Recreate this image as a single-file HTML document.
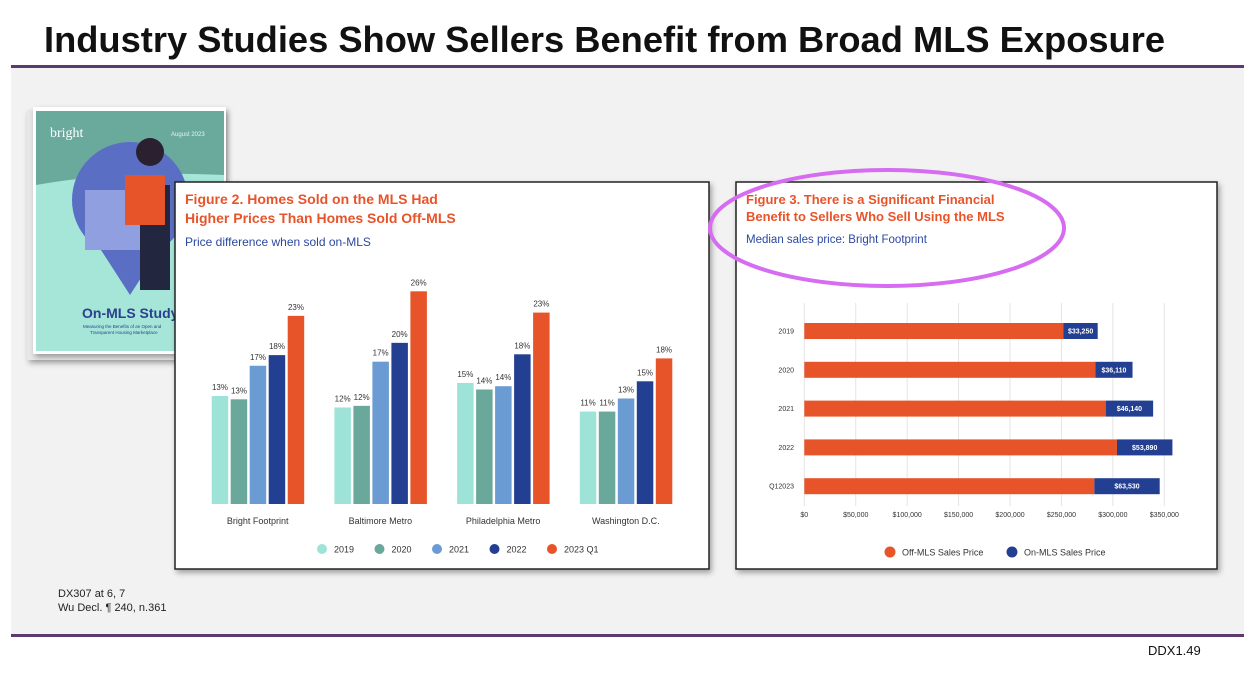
<!DOCTYPE html>
<html><head><meta charset="utf-8"><style>
html,body{margin:0;padding:0;background:#fff;}
svg{display:block;font-family:"Liberation Sans",sans-serif;}
</style></head><body>
<svg id="s" width="1244" height="674" viewBox="0 0 1244 674">
<defs><filter id="sh" x="-5%" y="-5%" width="115%" height="115%"><feDropShadow dx="2" dy="3" stdDeviation="3" flood-opacity="0.35"/></filter></defs>
<rect x="11" y="68" width="1233" height="566" fill="#f2f2f2"/>
<text x="44" y="52" font-size="36" font-weight="bold" fill="#111" textLength="1121" lengthAdjust="spacingAndGlyphs">Industry Studies Show Sellers Benefit from Broad MLS Exposure</text>
<rect x="11" y="65" width="1233" height="3" fill="#5d3a6e"/>
<rect x="11" y="634" width="1233" height="3" fill="#5d3a6e"/>
<text x="1148" y="655" font-size="13" fill="#111">DDX1.49</text>
<text x="58" y="597" font-size="11" fill="#222">DX307 at 6, 7</text>
<text x="58" y="611" font-size="11" fill="#222">Wu Decl. ¶ 240, n.361</text>

<g>
<rect x="27" y="110" width="196" height="250" fill="#e8e8e8" filter="url(#sh)"/>
<rect x="33" y="107" width="193" height="247" fill="#fff" filter="url(#sh)"/>
<rect x="36" y="111" width="188" height="240" fill="#6aaa9c"/>
<path d="M36 185 Q120 170 224 175 L224 351 L36 351 Z" fill="#a6e6d8"/>
<circle cx="130" cy="200" r="58" fill="#5a6fc4"/>
<path d="M72 205 L130 295 L188 205 Z" fill="#5a6fc4"/>
<rect x="85" y="190" width="55" height="60" fill="#8f9fe0"/>
<rect x="140" y="185" width="30" height="105" fill="#23263f"/>
<rect x="125" y="175" width="40" height="50" fill="#e8542a"/>
<circle cx="150" cy="152" r="14" fill="#2a2030"/>
<text x="50" y="137" font-size="14" fill="#fff" font-family="Liberation Serif,serif">bright</text>
<text x="171" y="136" font-size="6" fill="#e6f3ef">August 2023</text>
<text x="82" y="318" font-size="14" font-weight="bold" fill="#2b3f8f">On-MLS Study</text>
<text x="83" y="328" font-size="4.5" fill="#2b3f8f">Measuring the Benefits of an Open and</text>
<text x="90" y="334" font-size="4.5" fill="#2b3f8f">Transparent Housing Marketplace</text>
</g>

<g>
<rect x="175" y="182" width="534" height="387" fill="#fff" stroke="#222" stroke-width="1.5" filter="url(#sh)"/>
<text x="185" y="204" font-size="14" font-weight="bold" fill="#e8542a">Figure 2. Homes Sold on the MLS Had</text>
<text x="185" y="223" font-size="14" font-weight="bold" fill="#e8542a">Higher Prices Than Homes Sold Off-MLS</text>
<text x="185" y="246" font-size="12" fill="#2b48a0">Price difference when sold on-MLS</text>
<g id="c1"></g>
</g>

<g>
<rect x="736" y="182" width="481" height="387" fill="#fff" stroke="#222" stroke-width="1.5" filter="url(#sh)"/>
<text x="746" y="204" font-size="13" font-weight="bold" fill="#e8542a">Figure 3. There is a Significant Financial</text>
<text x="746" y="221" font-size="13" font-weight="bold" fill="#e8542a">Benefit to Sellers Who Sell Using the MLS</text>
<text x="746" y="243" font-size="11.5" fill="#2b48a0">Median sales price: Bright Footprint</text>
<g id="c2"></g>
</g>
<ellipse cx="887" cy="228" rx="177" ry="58" fill="none" stroke="#d56cf2" stroke-width="4"/>
</svg>
<script>
const groups = ["Bright Footprint","Baltimore Metro","Philadelphia Metro","Washington D.C."];
const years = ["2019","2020","2021","2022","2023 Q1"];
const pctValues = [[13.2,12.8,16.9,18.2,23],[11.8,12,17.4,19.7,26],[14.8,14,14.4,18.3,23.4],[11.3,11.3,12.9,15,17.8]];
const pctLabels = [["13%","13%","17%","18%","23%"],["12%","12%","17%","20%","26%"],["15%","14%","14%","18%","23%"],["11%","11%","13%","15%","18%"]];
const fy = ["2019","2020","2021","2022","Q12023"];
const offMls = [252000,283000,293000,304000,282000];
const onMls = [33250,36110,46140,53890,63530];
const onLabels = ["$33,250","$36,110","$46,140","$53,890","$63,530"];
const xTicks = [0,50000,100000,150000,200000,250000,300000,350000];
const xTickLabels = ["$0","$50,000","$100,000","$150,000","$200,000","$250,000","$300,000","$350,000"];

const NS="http://www.w3.org/2000/svg";
function mk(p,t,a,txt){const e=document.createElementNS(NS,t);for(const k in a)e.setAttribute(k,a[k]);if(txt!=null)e.textContent=txt;p.appendChild(e);return e;}
const cols=["#9de3d8","#6aa89b","#6b9bd3","#233f92","#e8542a"];
// chart 1
const c1=document.getElementById('c1');
const base=504, pxPct=8.18;
const y1=v=>base-v*pxPct;
const gx=i=>211.7+i*122.7;
groups.forEach((g,i)=>{
  years.forEach((yr,j)=>{
    const v=pctValues[i][j], x=gx(i)+j*19;
    let r=mk(c1,'rect',{x:x,y:y1(v),width:16.5,height:base-y1(v),fill:cols[j]});
    
    
    let t=mk(c1,'text',{x:x+8.25,y:y1(v)-6,'font-size':8,fill:'#333','text-anchor':'middle'},pctLabels[i][j]);
    
    
  });
  let t=mk(c1,'text',{x:gx(i)+46,y:524,'font-size':9,fill:'#333','text-anchor':'middle'},g);
  
  
});
years.forEach((yr,j)=>{
  const cx=322+j*57.5;
  let c=mk(c1,'circle',{cx:cx,cy:549,r:5,fill:cols[j]});
  
  
  let t=mk(c1,'text',{x:cx+12,y:552.5,'font-size':9,fill:'#333'},yr);
  
  
});
// chart 2
const c2=document.getElementById('c2');
const x0=804.3, pxK=360/350000;
const x2=v=>x0+v*pxK;
xTicks.forEach((v,i)=>{
  let l=mk(c2,'line',{x1:x2(v),x2:x2(v),y1:303,y2:506,stroke:'#e4e4e4','stroke-width':1});
  
  
  let t=mk(c2,'text',{x:x2(v),y:517,'font-size':7,fill:'#333','text-anchor':'middle'},xTickLabels[i]);
  
  
});
fy.forEach((f,i)=>{
  const cy=331+i*38.8;
  let a=mk(c2,'rect',{x:x2(0),y:cy-8,width:x2(offMls[i])-x2(0),height:16,fill:'#e8542a'});
  
  
  let b=mk(c2,'rect',{x:x2(offMls[i]),y:cy-8,width:onMls[i]*pxK,height:16,fill:'#233f92'});
  
  
  let t=mk(c2,'text',{x:x2(offMls[i])+onMls[i]*pxK/2,y:cy+2.5,'font-size':7,'font-weight':'bold',fill:'#fff','text-anchor':'middle'},onLabels[i]);
  
  
  let y=mk(c2,'text',{x:794,y:cy+2.5,'font-size':7,fill:'#333','text-anchor':'end'},f);
  
  
});
[["Off-MLS Sales Price","#e8542a",890],["On-MLS Sales Price","#233f92",1012]].forEach(d=>{
  let c=mk(c2,'circle',{cx:d[2],cy:552,r:5.5,fill:d[1]});
  
  
  let t=mk(c2,'text',{x:d[2]+12,y:555.5,'font-size':9,fill:'#333'},d[0]);
  
  
});
</script>
</body></html>
